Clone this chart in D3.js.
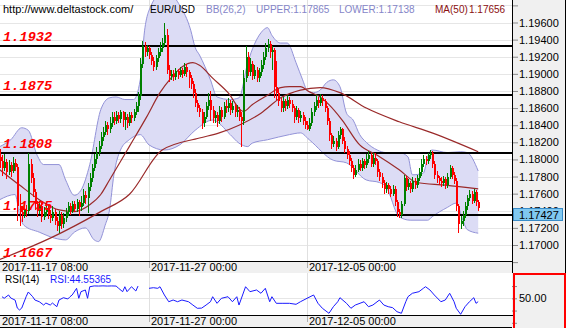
<!DOCTYPE html>
<html>
<head>
<meta charset="utf-8">
<script src="https://cdn.jsdelivr.net/npm/d3@7"></script>
<style>
html,body{margin:0;padding:0;background:#fff;}
svg{display:block;}
text{font-family:"Liberation Sans",Arial,sans-serif;}
</style>
</head>
<body>
<svg id="chart" width="566" height="328"></svg>
<script>
// EUR/USD, 2-hour bars from 2017-11-17 08:00
const barOpen = [
1.1803,1.1798,1.1790,1.1797,1.1785,1.1793,1.1786,1.1796,1.1791,1.1745,
1.1738,1.1735,1.1741,1.1740,1.1795,1.1778,1.1762,1.1748,1.1740,1.1746,
1.1733,1.1739,1.1743,1.1735,1.1732,1.1739,1.1728,1.1722,1.1735,1.1724,
1.1731,1.1738,1.1745,1.1740,1.1748,1.1742,1.1750,1.1744,1.1749,1.1758,
1.1755,1.1768,1.1778,1.1790,1.1800,1.1808,1.1816,1.1826,1.1832,1.1840,
1.1835,1.1843,1.1850,1.1845,1.1852,1.1847,1.1855,1.1846,1.1850,1.1842,
1.1852,1.1848,1.1855,1.1862,1.1874,1.1912,1.1932,1.1925,1.1930,1.1922,
1.1915,1.1908,1.1918,1.1925,1.1930,1.1936,1.1945,1.1905,1.1898,1.1900,
1.1896,1.1903,1.1899,1.1905,1.1900,1.1908,1.1902,1.1895,1.1888,1.1878,
1.1866,1.1860,1.1855,1.1842,1.1850,1.1862,1.1870,1.1858,1.1848,1.1852,
1.1845,1.1858,1.1850,1.1862,1.1860,1.1866,1.1858,1.1862,1.1855,1.1858,
1.1850,1.1845,1.1895,1.1920,1.1902,1.1912,1.1898,1.1905,1.1895,1.1902,
1.1910,1.1920,1.1930,1.1935,1.1925,1.1928,1.1885,1.1878,1.1868,1.1860,
1.1868,1.1862,1.1870,1.1865,1.1860,1.1850,1.1858,1.1848,1.1852,1.1845,
1.1840,1.1835,1.1842,1.1855,1.1862,1.1870,1.1866,1.1872,1.1868,1.1860,
1.1845,1.1828,1.1818,1.1822,1.1815,1.1828,1.1835,1.1822,1.1812,1.1805,
1.1798,1.1790,1.1782,1.1788,1.1795,1.1790,1.1798,1.1793,1.1800,1.1805,
1.1795,1.1802,1.1798,1.1785,1.1780,1.1772,1.1765,1.1770,1.1765,1.1760,
1.1766,1.1750,1.1738,1.1735,1.1748,1.1778,1.1768,1.1772,1.1765,1.1775,
1.1770,1.1778,1.1785,1.1795,1.1800,1.1798,1.1805,1.1808,1.1795,1.1782,
1.1778,1.1775,1.1772,1.1777,1.1770,1.1780,1.1790,1.1782,1.1775,1.1745,
1.1725,1.1728,1.1735,1.1745,1.1755,1.1760,1.1752,1.1762,1.1750];
const barHigh = [
1.1812,1.1805,1.1806,1.1801,1.1799,1.1797,1.1803,1.1800,1.1795,1.1760,
1.1746,1.1748,1.1747,1.1808,1.1800,1.1784,1.1766,1.1752,1.1751,1.1749,
1.1744,1.1748,1.1747,1.1741,1.1745,1.1742,1.1733,1.1740,1.1738,1.1737,
1.1743,1.1750,1.1749,1.1752,1.1751,1.1754,1.1753,1.1757,1.1765,1.1763,
1.1772,1.1784,1.1795,1.1806,1.1814,1.1822,1.1832,1.1838,1.1845,1.1844,
1.1849,1.1856,1.1855,1.1857,1.1856,1.1858,1.1857,1.1855,1.1853,1.1856,
1.1855,1.1859,1.1867,1.1879,1.1918,1.1938,1.1937,1.1934,1.1933,1.1926,
1.1920,1.1922,1.1930,1.1937,1.1942,1.1960,1.1952,1.1910,1.1905,1.1904,
1.1907,1.1906,1.1908,1.1907,1.1913,1.1911,1.1905,1.1899,1.1892,1.1882,
1.1870,1.1864,1.1859,1.1856,1.1867,1.1878,1.1880,1.1862,1.1857,1.1856,
1.1863,1.1861,1.1867,1.1869,1.1872,1.1869,1.1868,1.1865,1.1864,1.1861,
1.1856,1.1905,1.1932,1.1925,1.1918,1.1915,1.1910,1.1908,1.1907,1.1916,
1.1926,1.1936,1.1941,1.1938,1.1932,1.1930,1.1915,1.1882,1.1872,1.1873,
1.1871,1.1875,1.1873,1.1870,1.1863,1.1862,1.1860,1.1857,1.1855,1.1849,
1.1845,1.1848,1.1860,1.1867,1.1875,1.1873,1.1876,1.1875,1.1871,1.1863,
1.1848,1.1831,1.1827,1.1825,1.1833,1.1838,1.1837,1.1826,1.1816,1.1810,
1.1802,1.1794,1.1793,1.1800,1.1799,1.1802,1.1801,1.1806,1.1810,1.1808,
1.1807,1.1808,1.1801,1.1789,1.1784,1.1776,1.1774,1.1773,1.1769,1.1770,
1.1769,1.1753,1.1742,1.1752,1.1782,1.1781,1.1777,1.1775,1.1779,1.1778,
1.1782,1.1790,1.1800,1.1805,1.1804,1.1808,1.1811,1.1810,1.1798,1.1786,
1.1781,1.1779,1.1781,1.1780,1.1784,1.1794,1.1792,1.1785,1.1778,1.1748,
1.1734,1.1740,1.1750,1.1759,1.1764,1.1763,1.1766,1.1764,1.1753];
const barLow = [
1.1790,1.1781,1.1786,1.1777,1.1782,1.1780,1.1784,1.1787,1.1728,1.1722,
1.1727,1.1731,1.1733,1.1736,1.1772,1.1756,1.1741,1.1733,1.1736,1.1727,
1.1729,1.1734,1.1730,1.1726,1.1728,1.1723,1.1716,1.1714,1.1719,1.1720,
1.1727,1.1734,1.1735,1.1737,1.1738,1.1739,1.1734,1.1740,1.1745,1.1748,
1.1737,1.1763,1.1774,1.1786,1.1795,1.1804,1.1812,1.1821,1.1828,1.1829,
1.1831,1.1838,1.1840,1.1841,1.1842,1.1843,1.1838,1.1834,1.1837,1.1839,
1.1843,1.1845,1.1852,1.1856,1.1870,1.1907,1.1920,1.1921,1.1917,1.1910,
1.1903,1.1905,1.1914,1.1921,1.1926,1.1933,1.1900,1.1890,1.1893,1.1892,
1.1893,1.1894,1.1896,1.1895,1.1897,1.1896,1.1884,1.1882,1.1872,1.1861,
1.1855,1.1849,1.1836,1.1838,1.1847,1.1858,1.1845,1.1843,1.1842,1.1838,
1.1841,1.1844,1.1847,1.1854,1.1856,1.1852,1.1854,1.1850,1.1850,1.1845,
1.1814,1.1840,1.1890,1.1897,1.1898,1.1893,1.1894,1.1890,1.1891,1.1898,
1.1906,1.1916,1.1925,1.1918,1.1905,1.1872,1.1870,1.1862,1.1855,1.1856,
1.1857,1.1859,1.1860,1.1855,1.1843,1.1846,1.1842,1.1844,1.1840,1.1836,
1.1834,1.1833,1.1839,1.1851,1.1858,1.1860,1.1862,1.1862,1.1855,1.1840,
1.1822,1.1812,1.1814,1.1810,1.1812,1.1824,1.1818,1.1807,1.1800,1.1793,
1.1785,1.1777,1.1779,1.1785,1.1786,1.1787,1.1789,1.1790,1.1796,1.1791,
1.1791,1.1793,1.1780,1.1775,1.1767,1.1760,1.1761,1.1760,1.1756,1.1757,
1.1745,1.1733,1.1731,1.1732,1.1745,1.1763,1.1764,1.1761,1.1762,1.1766,
1.1767,1.1775,1.1781,1.1791,1.1793,1.1795,1.1800,1.1790,1.1777,1.1773,
1.1770,1.1768,1.1769,1.1766,1.1767,1.1777,1.1777,1.1771,1.1740,1.1714,
1.1719,1.1722,1.1731,1.1741,1.1751,1.1748,1.1749,1.1745,1.1740];
const barClose = [
1.1798,1.1790,1.1797,1.1785,1.1793,1.1786,1.1796,1.1791,1.1745,1.1738,
1.1735,1.1741,1.1740,1.1795,1.1778,1.1762,1.1748,1.1740,1.1746,1.1733,
1.1739,1.1743,1.1735,1.1732,1.1739,1.1728,1.1722,1.1735,1.1724,1.1731,
1.1738,1.1745,1.1740,1.1748,1.1742,1.1750,1.1744,1.1749,1.1758,1.1755,
1.1768,1.1778,1.1790,1.1800,1.1808,1.1816,1.1826,1.1832,1.1840,1.1835,
1.1843,1.1850,1.1845,1.1852,1.1847,1.1855,1.1846,1.1850,1.1842,1.1852,
1.1848,1.1855,1.1862,1.1874,1.1912,1.1932,1.1925,1.1930,1.1922,1.1915,
1.1908,1.1918,1.1925,1.1930,1.1936,1.1945,1.1905,1.1898,1.1900,1.1896,
1.1903,1.1899,1.1905,1.1900,1.1908,1.1902,1.1895,1.1888,1.1878,1.1866,
1.1860,1.1855,1.1842,1.1850,1.1862,1.1870,1.1858,1.1848,1.1852,1.1845,
1.1858,1.1850,1.1862,1.1860,1.1866,1.1858,1.1862,1.1855,1.1858,1.1850,
1.1845,1.1895,1.1920,1.1902,1.1912,1.1898,1.1905,1.1895,1.1902,1.1910,
1.1920,1.1930,1.1935,1.1925,1.1928,1.1885,1.1878,1.1868,1.1860,1.1868,
1.1862,1.1870,1.1865,1.1860,1.1850,1.1858,1.1848,1.1852,1.1845,1.1840,
1.1835,1.1842,1.1855,1.1862,1.1870,1.1866,1.1872,1.1868,1.1860,1.1845,
1.1828,1.1818,1.1822,1.1815,1.1828,1.1835,1.1822,1.1812,1.1805,1.1798,
1.1790,1.1782,1.1788,1.1795,1.1790,1.1798,1.1793,1.1800,1.1805,1.1795,
1.1802,1.1798,1.1785,1.1780,1.1772,1.1765,1.1770,1.1765,1.1760,1.1766,
1.1750,1.1738,1.1735,1.1748,1.1778,1.1768,1.1772,1.1765,1.1775,1.1770,
1.1778,1.1785,1.1795,1.1800,1.1798,1.1805,1.1808,1.1795,1.1782,1.1778,
1.1775,1.1772,1.1777,1.1770,1.1780,1.1790,1.1782,1.1775,1.1745,1.1725,
1.1728,1.1735,1.1745,1.1755,1.1760,1.1752,1.1762,1.1750,1.1743];

// Bollinger band (26,2) edges, read at the listed bars
const upperBars = [0,5,10,13,17,20,27,30,34,37,41,46,50,53,57,61,64,66,69,73,78,82,87,89,91,96,99,105,109,113,119,122,124,128,131,135,138,140,143,146,149,152,155,158,161,164,167,172,176,182,186,188,193,195,197,204,210,213,218];
const upperValues = [1.1815,1.1823,1.1837,1.1834,1.1805,1.1794,1.1794,1.1776,1.1758,1.1764,1.1794,1.1858,1.1872,1.1873,1.1870,1.1870,1.1893,1.1951,1.1980,1.1992,1.1992,1.1980,1.1951,1.1931,1.1922,1.1893,1.1873,1.1870,1.1872,1.1913,1.1948,1.1954,1.1945,1.1936,1.1936,1.1913,1.1893,1.1881,1.1878,1.1881,1.1890,1.1893,1.1885,1.1854,1.1846,1.1829,1.1820,1.1811,1.1808,1.1808,1.1803,1.1782,1.1784,1.1803,1.1811,1.1808,1.1809,1.1808,1.17865];
const lowerBars = [0,7,9,11,18,25,30,34,39,43,45,48,50,52,55,59,64,68,75,82,89,97,105,109,113,115,122,132,137,141,152,158,167,173,176,182,187,195,197,204,208,211,213,218];
const lowerValues = [1.1753,1.1759,1.1735,1.1723,1.1715,1.1708,1.1706,1.1715,1.1720,1.1706,1.1704,1.1723,1.1741,1.1782,1.1811,1.1823,1.1829,1.1817,1.1811,1.1817,1.1834,1.1846,1.1829,1.1819,1.1815,1.1819,1.1823,1.1829,1.1831,1.1823,1.1799,1.1796,1.1776,1.1773,1.1768,1.1733,1.1729,1.1729,1.1733,1.1744,1.1749,1.1729,1.1718,1.17138];

// Moving averages
const ma50Bars = [0,9,18,27,34,41,46,50,59,67,73,78,83,88,91,97,104,111,115,122,128,132,137,141,146,150,156,164,172,182,190,203,218];
const ma50Values = [1.1788,1.1770,1.1753,1.1741,1.1739,1.1747,1.1759,1.1776,1.1815,1.1850,1.1878,1.1895,1.1908,1.1913,1.1910,1.1895,1.1878,1.1856,1.1864,1.1875,1.1884,1.1885,1.1885,1.1879,1.1873,1.1864,1.1846,1.1817,1.1805,1.1788,1.1773,1.1770,1.17656];
const maLongBars = [0,23,46,59,74,91,100,109,119,128,137,146,155,167,182,197,218];
const maLongValues = [1.1683,1.1708,1.1739,1.1759,1.1811,1.1825,1.1831,1.1840,1.1854,1.1872,1.1881,1.1884,1.1878,1.1860,1.1844,1.1831,1.1809];

// RSI(14), read at the listed bars (null = no value drawn)
const rsiBars = [1,2,4,5,7,8,9,10,12,13,15,16,18,20,21,23,24,26,27,29,31,32,33,35,36,37,39,40,41,43,45,47,49,51,53,54,56,57,58,60,62,63,65,68,70,72,73,75,77,79,81,83,86,88,90,92,94,96,97,99,101,104,106,108,109,112,114,117,119,121,123,124,126,129,132,135,137,140,143,145,147,150,152,154,155,158,160,162,166,168,170,173,175,177,179,181,183,185,186,188,191,193,194,196,198,201,203,205,207,208,210,212,214,216,217,218];
const rsiValues = [52.6,50,55.4,50.5,47,34,31,34,52.6,60.3,52.6,47.2,44.4,39,42.3,39,42.3,36.3,47.2,51,48.9,52.6,55.4,66.3,50,60.8,63.6,50,68.9,70.2,70,70.3,70,70.2,70,66.8,60.8,68.9,60.8,68.9,61.9,70,null,66.3,67.3,66.3,68.9,55.4,44.4,47.2,44.4,47.2,44.4,39,33.7,34,39,44.4,52.6,41.8,50,52.6,44.4,52.6,39,68.9,60.8,63.6,58.2,66.3,44.4,52.6,41.8,41.8,41.8,40.2,44.4,50,55.4,41.8,33.7,25.5,36.3,44.4,51,41.8,33.7,39,44.4,36.3,39,47.2,39,36.3,34.7,28.1,25.5,44.4,52.6,58.2,60.8,66.3,68.9,63.6,55.4,44.4,47.2,58.2,44.4,33.7,23.9,36.3,44.4,51,41.8,44.55];

// Horizontal levels and axis labels
const levelValues = [1.1932, 1.1875, 1.1808, 1.1735, 1.1667];
const levelLabels = ["1.1932", "1.1875", "1.1808", "1.1735", "1.1667"];
const priceTicks = [1.198,1.196,1.194,1.192,1.190,1.188,1.186,1.184,1.182,1.180,1.178,1.176,1.174,1.172,1.170,1.168];
const dateTickBars = [0, 68, 140];
const dateTickLabels = ["2017-11-17 08:00", "2017-11-27 00:00", "2017-12-05 00:00"];
const rsiTicks = [70, 50, 30, 10];
const lastPrice = 1.17427;
const headerTexts = ["http://www.deltastock.com/", "EUR/USD", "BB(26,2)", "UPPER:1.17865", "LOWER:1.17138", "MA(50)", "1.17656"];
const headerColors = ["#000", "#000", "#8585c8", "#8585c8", "#8585c8", "#8b1010", "#8b1010"];
const headerX = [3, 150, 206, 256, 339, 435, 469];
const headerSize = [11, 10, 10, 10, 10, 10, 10];

// ---- layout ----
const plotW = 512, mainBottom = 261, stripH = 12;
const rsiTop = 273, rsiBottom = 315;
const svg = d3.select("#chart");

const x = d3.scaleLinear().domain([0.1, 233.4]).range([0, plotW]);
const y = d3.scaleLinear().domain([1.170, 1.196]).range([245, 22.5]);
const yRsi = d3.scaleLinear().domain([30, 70]).range([310.55, 286.05]);

const defs = svg.append("defs");
defs.append("clipPath").attr("id", "clipMain").append("rect")
  .attr("x", 0).attr("y", 0).attr("width", plotW).attr("height", mainBottom);
defs.append("clipPath").attr("id", "clipRsi").append("rect")
  .attr("x", 0).attr("y", rsiTop).attr("width", plotW).attr("height", rsiBottom - rsiTop);
defs.append("clipPath").attr("id", "clipAxisText").append("rect")
  .attr("x", plotW).attr("y", 0).attr("width", 566 - plotW).attr("height", rsiTop);

svg.append("rect").attr("width", 566).attr("height", 328).attr("fill", "#fff");

// right-hand axis panel
svg.append("rect").attr("x", plotW).attr("y", 0).attr("width", 566 - plotW).attr("height", 328).attr("fill", "#f0f0f0");

const main = svg.append("g").attr("clip-path", "url(#clipMain)");

// grid
main.append("g").selectAll("line").data(priceTicks).join("line")
  .attr("x1", 0).attr("x2", plotW)
  .attr("y1", d => Math.round(y(d)) + 0.5).attr("y2", d => Math.round(y(d)) + 0.5)
  .attr("stroke", "#e6e6e6").attr("stroke-width", 1);
main.append("g").selectAll("line").data(dateTickBars.slice(1)).join("line")
  .attr("x1", d => Math.round(x(d)) + 0.5).attr("x2", d => Math.round(x(d)) + 0.5)
  .attr("y1", 0).attr("y2", mainBottom)
  .attr("stroke", "#e0e0e0").attr("stroke-width", 1);

// Bollinger band
const upperPts = upperBars.map((b, i) => [x(b), y(upperValues[i])]);
const lowerPts = lowerBars.map((b, i) => [x(b), y(lowerValues[i])]);
const curve = d3.line().curve(d3.curveMonotoneX);
const upperPath = curve(upperPts);
const lowerRev = curve(lowerPts.slice().reverse());
const bandArea = upperPath + "L" + lowerRev.slice(1) + "Z";
main.append("path").attr("d", bandArea).attr("fill", "#dcdcf5").attr("stroke", "none");
main.append("path").attr("d", upperPath).attr("fill", "none").attr("stroke", "#9393d8").attr("stroke-width", 1);
main.append("path").attr("d", curve(lowerPts)).attr("fill", "none").attr("stroke", "#9393d8").attr("stroke-width", 1);

// level lines
main.append("g").selectAll("line").data(levelValues).join("line")
  .attr("x1", 0).attr("x2", plotW)
  .attr("y1", d => Math.round(y(d))).attr("y2", d => Math.round(y(d)))
  .attr("stroke", "#000").attr("stroke-width", 2);

// level labels
svg.append("g").selectAll("text").data(levelValues).join("text")
  .attr("x", 3)
  .attr("y", d => Math.min(Math.round(y(d)), 262) - 5)
  .text((d, i) => levelLabels[i])
  .style("font-family", "'Liberation Mono','Courier New',monospace")
  .style("font-weight", "bold").style("font-style", "italic")
  .style("font-size", "13.7px").attr("fill", "#ff0000");

// moving averages
const maLine = d3.line().curve(d3.curveMonotoneX);
main.append("path").attr("d", maLine(maLongBars.map((b, i) => [x(b), y(maLongValues[i])])))
  .attr("fill", "none").attr("stroke", "#9a2a2a").attr("stroke-width", 1.2);
main.append("path").attr("d", maLine(ma50Bars.map((b, i) => [x(b), y(ma50Values[i])])))
  .attr("fill", "none").attr("stroke", "#9a2a2a").attr("stroke-width", 1.2);

// candles
const idx = d3.range(barClose.length);
const cColor = i => barClose[i] >= barOpen[i] ? "#008000" : "#ff0000";
const candles = main.append("g").attr("shape-rendering", "crispEdges");
candles.selectAll("rect.wick").data(idx).join("rect").attr("class", "wick")
  .attr("x", i => Math.round(x(i)))
  .attr("width", 1)
  .attr("y", i => y(barHigh[i]))
  .attr("height", i => Math.max(1, y(barLow[i]) - y(barHigh[i])))
  .attr("fill", cColor);
candles.selectAll("rect.body").data(idx).join("rect").attr("class", "body")
  .attr("x", i => Math.round(x(i)))
  .attr("width", 2)
  .attr("y", i => y(Math.max(barOpen[i], barClose[i])))
  .attr("height", i => Math.max(1, Math.abs(y(barOpen[i]) - y(barClose[i]))))
  .attr("fill", cColor);

// header
svg.append("g").selectAll("text").data(headerTexts).join("text")
  .attr("x", (d, i) => headerX[i]).attr("y", 13)
  .text(d => d).attr("fill", (d, i) => headerColors[i])
  .style("font-size", (d, i) => headerSize[i] + "px");

// date strips
function dateStrip(top) {
  const g = svg.append("g");
  g.append("rect").attr("x", 0).attr("y", top).attr("width", plotW).attr("height", stripH).attr("fill", "#f0f0f0");
  g.append("line").attr("x1", 0).attr("x2", plotW + 1).attr("y1", top + 0.5).attr("y2", top + 0.5).attr("stroke", "#000");
  g.selectAll("line.tk").data(dateTickBars.slice(1)).join("line").attr("class", "tk")
    .attr("x1", d => Math.round(x(d)) + 0.5).attr("x2", d => Math.round(x(d)) + 0.5)
    .attr("y1", top + 1).attr("y2", top + 7).attr("stroke", "#b0b0b0");
  g.selectAll("text").data(dateTickBars).join("text")
    .attr("x", d => Math.round(x(d)) + 2).attr("y", top + 10)
    .text((d, i) => dateTickLabels[i]).attr("fill", "#000").style("font-size", "11px");
}
dateStrip(mainBottom);

// RSI panel
svg.append("rect").attr("x", 0).attr("y", rsiTop).attr("width", plotW).attr("height", rsiBottom - rsiTop).attr("fill", "#fff");
const rsiG = svg.append("g").attr("clip-path", "url(#clipRsi)");
rsiG.append("line").attr("x1", 0).attr("x2", plotW)
  .attr("y1", Math.round(yRsi(50)) + 0.5).attr("y2", Math.round(yRsi(50)) + 0.5)
  .attr("stroke", "#e6e6e6");
rsiG.selectAll("line.v").data(dateTickBars.slice(1)).join("line").attr("class", "v")
  .attr("x1", d => Math.round(x(d)) + 0.5).attr("x2", d => Math.round(x(d)) + 0.5)
  .attr("y1", rsiTop).attr("y2", rsiBottom).attr("stroke", "#e0e0e0");
const rsiLine = d3.line().defined(d => d[1] !== null).x(d => x(d[0])).y(d => yRsi(d[1]));
rsiG.append("path").attr("d", rsiLine(rsiBars.map((b, i) => [b, rsiValues[i]])))
  .attr("fill", "none").attr("stroke", "#1a1aff").attr("stroke-width", 1);
svg.append("text").attr("x", 5).attr("y", 283).text("RSI(14)").attr("fill", "#000").style("font-size", "10px");
svg.append("text").attr("x", 50).attr("y", 283).text("RSI:44.55365").attr("fill", "#1a1aff").style("font-size", "10px");

dateStrip(rsiBottom);
svg.append("line").attr("x1", 0).attr("x2", plotW).attr("y1", 327.5).attr("y2", 327.5).attr("stroke", "#000");

// price axis; the last-price marker sits on top of the tick label it covers
const lp = Math.round(y(lastPrice)) + 0.5;
const axisG = svg.append("g").attr("transform", `translate(${plotW},0)`)
  .call(d3.axisRight(y).tickValues(priceTicks).tickFormat(d3.format(".5f")).tickSize(6).tickPadding(1));
axisG.select(".domain").remove();
axisG.selectAll(".tick line").attr("stroke", "#8a8a8a");
axisG.selectAll(".tick text").attr("fill", "#000").style("font-size", "11px")
  .style("font-family", "'Liberation Sans',Arial,sans-serif")
  .filter(d => d > 1.197 || d < 1.169).remove();
// the label hidden under the marker is cut to the part left visible above it
axisG.selectAll(".tick").filter(d => Math.abs(d - 1.174) < 1e-6).select("text")
  .attr("clip-path", null);
defs.append("clipPath").attr("id", "clipAbove").append("rect")
  .attr("x", -10).attr("y", -20).attr("width", 80).attr("height", lp - y(1.174) + 20);
axisG.selectAll(".tick").filter(d => Math.abs(d - 1.174) < 1e-6).select("text")
  .attr("clip-path", "url(#clipAbove)");
svg.append("line").attr("x1", plotW + 0.5).attr("x2", plotW + 0.5).attr("y1", 0).attr("y2", rsiTop).attr("stroke", "#000");
svg.append("line").attr("x1", 565.5).attr("x2", 565.5).attr("y1", 0).attr("y2", rsiTop).attr("stroke", "#000");

// last price marker
svg.append("rect").attr("x", 513.5).attr("y", lp).attr("width", 49).attr("height", 12)
  .attr("fill", "#80c8f0").attr("stroke", "#3a8cc8");
svg.append("text").attr("x", 519).attr("y", lp + 10.5).text(d3.format(".5f")(lastPrice))
  .attr("fill", "#000").style("font-size", "11px");

// RSI axis
const rsiAxis = svg.append("g").attr("transform", `translate(${plotW},0)`)
  .call(d3.axisRight(yRsi).tickValues(rsiTicks).tickFormat(d => d === 50 ? "50.00" : "").tickSize(5).tickPadding(2));
rsiAxis.select(".domain").remove();
rsiAxis.selectAll(".tick line").attr("stroke", "#8a8a8a");
rsiAxis.selectAll(".tick text").attr("fill", "#000").style("font-size", "11px")
  .style("font-family", "'Liberation Sans',Arial,sans-serif");
svg.append("rect").attr("x", 514).attr("y", 274).attr("width", 51).attr("height", 56)
  .attr("fill", "none").attr("stroke", "#ff0000").attr("stroke-width", 2);
</script>
</body>
</html>
